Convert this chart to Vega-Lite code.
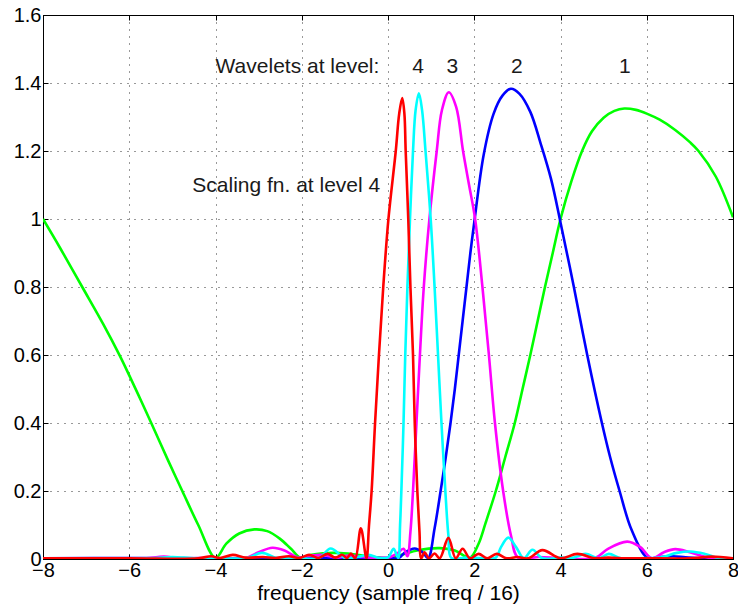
{
  "$schema": "https://vega.github.io/schema/vega-lite/v6.json",
  "width": 690,
  "height": 544,
  "autosize": "none",
  "padding": {"left": 43, "top": 15, "right": 5, "bottom": 55},
  "background": "white",
  "config": {
    "view": {"stroke": "black", "strokeWidth": 1},
    "font": "Liberation Sans"
  },
  "datasets": {
    "green": [
      {"f": -8, "m": 1.0}, {"f": -7.6, "m": 0.914}, {"f": -7.09, "m": 0.8}, {"f": -6.6, "m": 0.69}, {"f": -6.22, "m": 0.598}, {"f": -6.0, "m": 0.54}, {"f": -5.75, "m": 0.472}, {"f": -5.49, "m": 0.4}, {"f": -5.1, "m": 0.29}, {"f": -4.77, "m": 0.2}, {"f": -4.4, "m": 0.1}, {"f": -4.0, "m": 0.003},
      {"f": -3.75, "m": 0.045}, {"f": -3.45, "m": 0.075}, {"f": -3.1, "m": 0.087}, {"f": -2.8, "m": 0.082}, {"f": -2.51, "m": 0.06}, {"f": -2.25, "m": 0.03}, {"f": -2.03, "m": 0.004},
      {"f": -1.8, "m": 0.012}, {"f": -1.5, "m": 0.017}, {"f": -1.2, "m": 0.018}, {"f": -0.8, "m": 0.014}, {"f": -0.4, "m": 0.007}, {"f": 0.0, "m": 0.002},
      {"f": 0.3, "m": 0.012}, {"f": 0.7, "m": 0.026}, {"f": 1.2, "m": 0.032}, {"f": 1.55, "m": 0.025}, {"f": 1.9, "m": 0.004},
      {"f": 2.1, "m": 0.045}, {"f": 2.26, "m": 0.105}, {"f": 2.5, "m": 0.2}, {"f": 2.72, "m": 0.3}, {"f": 2.94, "m": 0.4}, {"f": 3.12, "m": 0.5}, {"f": 3.3, "m": 0.6}, {"f": 3.47, "m": 0.7}, {"f": 3.64, "m": 0.8}, {"f": 3.82, "m": 0.9}, {"f": 4.0, "m": 1.0},
      {"f": 4.25, "m": 1.11}, {"f": 4.5, "m": 1.2}, {"f": 4.73, "m": 1.258}, {"f": 5.0, "m": 1.298}, {"f": 5.25, "m": 1.318}, {"f": 5.48, "m": 1.325}, {"f": 5.75, "m": 1.321}, {"f": 6.0, "m": 1.31}, {"f": 6.3, "m": 1.292}, {"f": 6.66, "m": 1.262}, {"f": 7.0, "m": 1.226}, {"f": 7.2, "m": 1.2}, {"f": 7.6, "m": 1.125}, {"f": 8.0, "m": 1.005}
    ],
    "blue": [
      {"f": -8, "m": 0.002}, {"f": -6, "m": 0.003}, {"f": -4, "m": 0.002}, {"f": -2, "m": 0.003}, {"f": -1, "m": 0.004}, {"f": 0, "m": 0.003}, {"f": 0.25, "m": 0.003},
      {"f": 0.4, "m": 0.02}, {"f": 0.62, "m": 0.031}, {"f": 0.8, "m": 0.02}, {"f": 0.93, "m": 0.003},
      {"f": 1.08, "m": 0.09}, {"f": 1.22, "m": 0.2}, {"f": 1.34, "m": 0.3}, {"f": 1.45, "m": 0.4}, {"f": 1.55, "m": 0.5}, {"f": 1.64, "m": 0.6}, {"f": 1.73, "m": 0.7}, {"f": 1.82, "m": 0.8}, {"f": 1.91, "m": 0.9}, {"f": 2.0, "m": 0.99},
      {"f": 2.22, "m": 1.19}, {"f": 2.45, "m": 1.31}, {"f": 2.65, "m": 1.362}, {"f": 2.85, "m": 1.383}, {"f": 3.05, "m": 1.368}, {"f": 3.3, "m": 1.315}, {"f": 3.54, "m": 1.222}, {"f": 3.78, "m": 1.118}, {"f": 4.0, "m": 0.99},
      {"f": 4.31, "m": 0.8}, {"f": 4.62, "m": 0.6}, {"f": 4.96, "m": 0.4}, {"f": 5.15, "m": 0.3}, {"f": 5.37, "m": 0.2}, {"f": 5.65, "m": 0.085}, {"f": 6.02, "m": 0.003},
      {"f": 6.3, "m": 0.006}, {"f": 6.6, "m": 0.008}, {"f": 6.9, "m": 0.005}, {"f": 7.3, "m": 0.002}, {"f": 8, "m": 0.002}
    ],
    "magenta": [
      {"f": -8, "m": 0.002}, {"f": -6, "m": 0.002}, {"f": -5.6, "m": 0.002}, {"f": -5.2, "m": 0.007}, {"f": -4.8, "m": 0.002}, {"f": -4.3, "m": 0.003}, {"f": -3.9, "m": 0.002}, {"f": -3.3, "m": 0.003},
      {"f": -3.0, "m": 0.02}, {"f": -2.68, "m": 0.033}, {"f": -2.4, "m": 0.025}, {"f": -2.1, "m": 0.005}, {"f": -1.8, "m": 0.01}, {"f": -1.5, "m": 0.012}, {"f": -1.2, "m": 0.004}, {"f": -0.9, "m": 0.01}, {"f": -0.6, "m": 0.006}, {"f": -0.3, "m": 0.003}, {"f": 0.0, "m": 0.004},
      {"f": 0.2, "m": 0.015}, {"f": 0.36, "m": 0.03}, {"f": 0.45, "m": 0.008}, {"f": 0.52, "m": 0.08}, {"f": 0.58, "m": 0.2}, {"f": 0.66, "m": 0.4}, {"f": 0.74, "m": 0.6}, {"f": 0.83, "m": 0.8}, {"f": 0.96, "m": 1.0},
      {"f": 1.13, "m": 1.2}, {"f": 1.25, "m": 1.32}, {"f": 1.41, "m": 1.373}, {"f": 1.58, "m": 1.33}, {"f": 1.74, "m": 1.2}, {"f": 1.88, "m": 1.1}, {"f": 2.02, "m": 1.0},
      {"f": 2.19, "m": 0.8}, {"f": 2.34, "m": 0.6}, {"f": 2.48, "m": 0.4}, {"f": 2.67, "m": 0.2}, {"f": 2.85, "m": 0.07}, {"f": 3.02, "m": 0.003},
      {"f": 3.5, "m": 0.006}, {"f": 4.0, "m": 0.003}, {"f": 4.8, "m": 0.003}, {"f": 5.1, "m": 0.03}, {"f": 5.55, "m": 0.051}, {"f": 5.85, "m": 0.035}, {"f": 6.12, "m": 0.002},
      {"f": 6.4, "m": 0.02}, {"f": 6.66, "m": 0.029}, {"f": 7.0, "m": 0.02}, {"f": 7.5, "m": 0.002}, {"f": 8, "m": 0.002}
    ],
    "cyan": [
      {"f": -8, "m": 0.002}, {"f": -5.5, "m": 0.002}, {"f": -5.0, "m": 0.006}, {"f": -4.5, "m": 0.002}, {"f": -3.9, "m": 0.002}, {"f": -3.28, "m": 0.003}, {"f": -2.92, "m": 0.018}, {"f": -2.58, "m": 0.003},
      {"f": -2.2, "m": 0.004}, {"f": -1.6, "m": 0.003}, {"f": -1.33, "m": 0.031}, {"f": -1.0, "m": 0.003}, {"f": -0.7, "m": 0.006}, {"f": -0.45, "m": 0.012}, {"f": -0.2, "m": 0.003}, {"f": 0.0, "m": 0.005},
      {"f": 0.13, "m": 0.03}, {"f": 0.2, "m": 0.012}, {"f": 0.24, "m": 0.003}, {"f": 0.28, "m": 0.1}, {"f": 0.31, "m": 0.2}, {"f": 0.36, "m": 0.4}, {"f": 0.4, "m": 0.6}, {"f": 0.45, "m": 0.8}, {"f": 0.51, "m": 1.0},
      {"f": 0.58, "m": 1.2}, {"f": 0.64, "m": 1.32}, {"f": 0.716, "m": 1.37}, {"f": 0.79, "m": 1.32}, {"f": 0.87, "m": 1.2}, {"f": 0.99, "m": 1.0},
      {"f": 1.08, "m": 0.8}, {"f": 1.16, "m": 0.6}, {"f": 1.24, "m": 0.4}, {"f": 1.33, "m": 0.2}, {"f": 1.4, "m": 0.07}, {"f": 1.47, "m": 0.003},
      {"f": 1.8, "m": 0.004}, {"f": 2.2, "m": 0.003}, {"f": 2.5, "m": 0.004}, {"f": 2.62, "m": 0.035}, {"f": 2.79, "m": 0.063}, {"f": 2.97, "m": 0.035}, {"f": 3.15, "m": 0.002}, {"f": 3.35, "m": 0.027}, {"f": 3.58, "m": 0.002},
      {"f": 4.0, "m": 0.004}, {"f": 4.3, "m": 0.004}, {"f": 4.58, "m": 0.015}, {"f": 4.89, "m": 0.002}, {"f": 5.12, "m": 0.015}, {"f": 5.4, "m": 0.002}, {"f": 6.0, "m": 0.003}, {"f": 6.3, "m": 0.004},
      {"f": 6.7, "m": 0.018}, {"f": 7.02, "m": 0.022}, {"f": 7.35, "m": 0.015}, {"f": 7.7, "m": 0.002}, {"f": 8, "m": 0.002}
    ],
    "red": [
      {"f": -8, "m": 0.002}, {"f": -6, "m": 0.002}, {"f": -4.4, "m": 0.002}, {"f": -4.1, "m": 0.008}, {"f": -3.9, "m": 0.003}, {"f": -3.6, "m": 0.012}, {"f": -3.3, "m": 0.004}, {"f": -2.9, "m": 0.006}, {"f": -2.6, "m": 0.003}, {"f": -2.3, "m": 0.008}, {"f": -2.05, "m": 0.003},
      {"f": -1.83, "m": 0.012}, {"f": -1.62, "m": 0.003}, {"f": -1.4, "m": 0.015}, {"f": -1.22, "m": 0.004}, {"f": -1.06, "m": 0.012}, {"f": -0.95, "m": 0.003}, {"f": -0.86, "m": 0.016}, {"f": -0.76, "m": 0.002},
      {"f": -0.63, "m": 0.09}, {"f": -0.5, "m": 0.002}, {"f": -0.44, "m": 0.1}, {"f": -0.38, "m": 0.2}, {"f": -0.3, "m": 0.4}, {"f": -0.21, "m": 0.6}, {"f": -0.11, "m": 0.8}, {"f": 0.01, "m": 1.0},
      {"f": 0.18, "m": 1.2}, {"f": 0.26, "m": 1.31}, {"f": 0.33, "m": 1.356}, {"f": 0.38, "m": 1.31}, {"f": 0.41, "m": 1.2}, {"f": 0.47, "m": 1.0},
      {"f": 0.52, "m": 0.8}, {"f": 0.58, "m": 0.6}, {"f": 0.62, "m": 0.4}, {"f": 0.68, "m": 0.2}, {"f": 0.73, "m": 0.08}, {"f": 0.77, "m": 0.002},
      {"f": 0.85, "m": 0.02}, {"f": 0.95, "m": 0.002}, {"f": 1.08, "m": 0.016}, {"f": 1.2, "m": 0.002}, {"f": 1.4, "m": 0.062}, {"f": 1.57, "m": 0.002}, {"f": 1.73, "m": 0.03}, {"f": 1.9, "m": 0.002},
      {"f": 2.1, "m": 0.015}, {"f": 2.3, "m": 0.002}, {"f": 2.52, "m": 0.015}, {"f": 2.75, "m": 0.002}, {"f": 3.0, "m": 0.006}, {"f": 3.25, "m": 0.002}, {"f": 3.58, "m": 0.026}, {"f": 4.0, "m": 0.002},
      {"f": 4.39, "m": 0.015}, {"f": 4.8, "m": 0.002}, {"f": 5.1, "m": 0.004}, {"f": 5.5, "m": 0.002}, {"f": 6.0, "m": 0.002}, {"f": 7.0, "m": 0.002}, {"f": 7.5, "m": 0.007}, {"f": 8, "m": 0.002}
    ],
    "labelsRight": [
      {"f": -0.2, "m": 1.446, "t": "Wavelets at level:"},
      {"f": -0.18, "m": 1.097, "t": "Scaling fn. at level 4"}
    ],
    "labelsCenter": [
      {"f": 0.7, "m": 1.446, "t": "4"},
      {"f": 1.49, "m": 1.446, "t": "3"},
      {"f": 2.99, "m": 1.446, "t": "2"},
      {"f": 5.49, "m": 1.446, "t": "1"}
    ]
  },
  "resolve": {"axis": {"x": "independent", "y": "independent"}},
  "layer": [
    {
      "data": {"name": "green"},
      "mark": {"type": "line", "color": "#00ff00", "strokeWidth": 2.6, "interpolate": "catmull-rom", "clip": true},
      "encoding": {
        "x": {
          "field": "f", "type": "quantitative",
          "scale": {"domain": [-8, 8], "nice": false, "zero": false},
          "axis": {
            "values": [-8, -6, -4, -2, 0, 2, 4, 6, 8],
            "title": "frequency (sample freq / 16)",
            "grid": true, "gridDash": [1, 6], "gridColor": "#333333", "gridOpacity": 1, "gridWidth": 1,
            "tickSize": -5, "tickColor": "black", "domainColor": "black",
            "labelFont": "Liberation Sans", "labelFontSize": 20, "labelColor": "black", "labelPadding": 6,
            "labelFlush": false, "labelOverlap": false, "labelBound": false,
            "titleFont": "Liberation Sans", "titleFontSize": 21, "titleFontWeight": "normal", "titleColor": "black", "titlePadding": 2
          }
        },
        "y": {
          "field": "m", "type": "quantitative",
          "scale": {"domain": [0, 1.6], "nice": false, "zero": false},
          "axis": {
            "values": [0, 0.2, 0.4, 0.6, 0.8, 1, 1.2, 1.4, 1.6],
            "labelExpr": "'' + datum.value",
            "title": null,
            "grid": true, "gridDash": [1, 6], "gridColor": "#333333", "gridOpacity": 1, "gridWidth": 1,
            "tickSize": -5, "tickColor": "black", "domainColor": "black",
            "labelFont": "Liberation Sans", "labelFontSize": 20, "labelColor": "black", "labelPadding": 7,
            "labelFlush": false, "labelOverlap": false, "labelBound": false
          }
        }
      }
    },
    {
      "data": {"name": "blue"},
      "mark": {"type": "line", "color": "#0000ff", "strokeWidth": 2.6, "interpolate": "catmull-rom", "clip": true},
      "encoding": {
        "x": {"field": "f", "type": "quantitative", "axis": null},
        "y": {"field": "m", "type": "quantitative", "axis": null}
      }
    },
    {
      "data": {"name": "magenta"},
      "mark": {"type": "line", "color": "#ff00ff", "strokeWidth": 2.6, "interpolate": "catmull-rom", "clip": true},
      "encoding": {
        "x": {"field": "f", "type": "quantitative", "axis": null},
        "y": {"field": "m", "type": "quantitative", "axis": null}
      }
    },
    {
      "data": {"name": "cyan"},
      "mark": {"type": "line", "color": "#00ffff", "strokeWidth": 2.6, "interpolate": "catmull-rom", "clip": true},
      "encoding": {
        "x": {"field": "f", "type": "quantitative", "axis": null},
        "y": {"field": "m", "type": "quantitative", "axis": null}
      }
    },
    {
      "data": {"name": "red"},
      "mark": {"type": "line", "color": "#ff0000", "strokeWidth": 2.6, "interpolate": "catmull-rom", "clip": true},
      "encoding": {
        "x": {"field": "f", "type": "quantitative", "axis": null},
        "y": {"field": "m", "type": "quantitative", "axis": null}
      }
    },
    {
      "data": {"name": "labelsRight"},
      "mark": {"type": "text", "align": "right", "baseline": "middle", "font": "Liberation Sans", "fontSize": 21, "color": "#1a1a1a"},
      "encoding": {
        "x": {"field": "f", "type": "quantitative", "axis": null},
        "y": {"field": "m", "type": "quantitative", "axis": null},
        "text": {"field": "t"}
      }
    },
    {
      "data": {"name": "labelsCenter"},
      "mark": {"type": "text", "align": "center", "baseline": "middle", "font": "Liberation Sans", "fontSize": 21, "color": "#1a1a1a"},
      "encoding": {
        "x": {
          "field": "f", "type": "quantitative",
          "axis": {"orient": "top", "values": [-8, -6, -4, -2, 0, 2, 4, 6, 8], "labels": false, "title": null, "grid": false, "tickSize": -5, "tickColor": "black", "domainColor": "black"}
        },
        "y": {
          "field": "m", "type": "quantitative",
          "axis": {"orient": "right", "values": [0, 0.2, 0.4, 0.6, 0.8, 1, 1.2, 1.4, 1.6], "labels": false, "title": null, "grid": false, "tickSize": -5, "tickColor": "black", "domainColor": "black"}
        },
        "text": {"field": "t"}
      }
    }
  ]
}
